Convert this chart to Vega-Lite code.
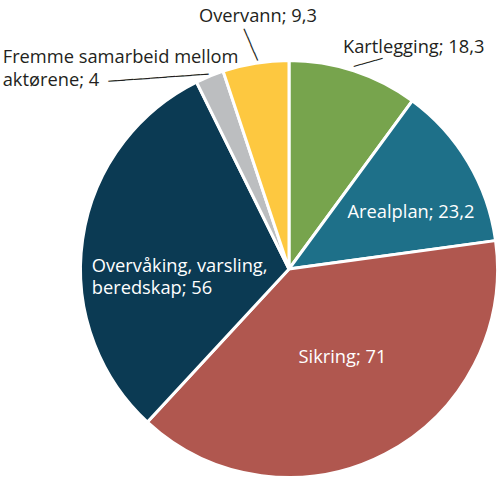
{
  "$schema": "https://vega.github.io/schema/vega-lite/v6.json",
  "description": "Kakediagram: fordeling på tiltak.",
  "autosize": {"type": "none"},
  "padding": {"left": 82, "top": 62, "right": 4, "bottom": 11},
  "width": 414,
  "height": 414,
  "data": {
    "values": [
      {"tiltak": "Kartlegging", "verdi": 18.3, "nr": 1, "etikett": "Kartlegging; 18,3"},
      {"tiltak": "Arealplan", "verdi": 23.2, "nr": 2, "etikett": "Arealplan; 23,2"},
      {"tiltak": "Sikring", "verdi": 71, "nr": 3, "etikett": "Sikring; 71"},
      {"tiltak": "Overvåking, varsling, beredskap", "verdi": 56, "nr": 4, "etikett": "Overvåking, varsling,\nberedskap; 56"},
      {"tiltak": "Fremme samarbeid mellom aktørene", "verdi": 4, "nr": 5, "etikett": "Fremme samarbeid mellom\naktørene; 4"},
      {"tiltak": "Overvann", "verdi": 9.3, "nr": 6, "etikett": "Overvann; 9,3"}
    ]
  },
  "encoding": {
    "theta": {"field": "verdi", "type": "quantitative", "stack": true},
    "order": {"field": "nr", "type": "quantitative"}
  },
  "layer": [
    {
      "mark": {"type": "arc", "outerRadius": 208.5, "stroke": "white", "strokeWidth": 3},
      "encoding": {
        "color": {
          "field": "tiltak",
          "type": "nominal",
          "legend": null,
          "scale": {
            "domain": ["Kartlegging", "Arealplan", "Sikring", "Overvåking, varsling, beredskap", "Fremme samarbeid mellom aktørene", "Overvann"],
            "range": ["#77a44d", "#1e7089", "#b0574f", "#0b3a53", "#bcbec0", "#fdc840"]
          }
        }
      }
    },
    {
      "mark": {"type": "text", "radius": 207, "dx": -10.4, "dy": -19, "align": "left", "baseline": "alphabetic", "font": "Open Sans", "fontSize": 18.3, "color": "#231f20"},
      "encoding": {"text": {"condition": {"test": "datum.nr === 1", "field": "etikett"}, "value": ""}}
    },
    {
      "mark": {"type": "text", "radius": 130, "dx": 10.3, "dy": 15.8, "align": "center", "baseline": "alphabetic", "font": "Open Sans", "fontSize": 18.3, "color": "white"},
      "encoding": {"text": {"condition": {"test": "datum.nr === 2", "field": "etikett"}, "value": ""}}
    },
    {
      "mark": {"type": "text", "radius": 100, "dx": 7.3, "dy": 5.6, "align": "center", "baseline": "alphabetic", "font": "Open Sans", "fontSize": 18.3, "color": "white"},
      "encoding": {"text": {"condition": {"test": "datum.nr === 3", "field": "etikett"}, "value": ""}}
    },
    {
      "mark": {"type": "text", "radius": 150, "dx": -48.8, "dy": 24.1, "align": "left", "baseline": "alphabetic", "lineBreak": "\n", "lineHeight": 22.5, "font": "Open Sans", "fontSize": 18.3, "color": "white"},
      "encoding": {"text": {"condition": {"test": "datum.nr === 4", "field": "etikett"}, "value": ""}}
    },
    {
      "mark": {"type": "text", "radius": 207, "dx": -207.5, "dy": -14.9, "align": "left", "baseline": "alphabetic", "lineBreak": "\n", "lineHeight": 23, "font": "Open Sans", "fontSize": 18.3, "color": "#231f20"},
      "encoding": {"text": {"condition": {"test": "datum.nr === 5", "field": "etikett"}, "value": ""}}
    },
    {
      "mark": {"type": "text", "radius": 207, "dx": 2.1, "dy": -42.2, "align": "center", "baseline": "alphabetic", "font": "Open Sans", "fontSize": 18.3, "color": "#231f20"},
      "encoding": {"text": {"condition": {"test": "datum.nr === 6", "field": "etikett"}, "value": ""}}
    },
    {
      "mark": {"type": "text", "radius": 207, "angle": -15.6, "dx": 16.9, "dy": -5.2, "align": "center", "baseline": "middle", "font": "DejaVu Sans", "fontSize": 12.4, "color": "#231f20"},
      "encoding": {"text": {"condition": {"test": "datum.nr === 1", "value": "────"}, "value": ""}}
    },
    {
      "mark": {"type": "text", "radius": 207, "angle": 67, "dx": -20.3, "dy": -2.2, "align": "center", "baseline": "middle", "font": "DejaVu Sans", "fontSize": 14.3, "color": "#231f20"},
      "encoding": {"text": {"condition": {"test": "datum.nr === 6", "value": "────"}, "value": ""}}
    },
    {
      "mark": {"type": "text", "radius": 207, "angle": -4.07, "dx": -51.7, "dy": -2.8, "align": "center", "baseline": "middle", "font": "DejaVu Sans", "fontSize": 13.9, "color": "#231f20"},
      "encoding": {"text": {"condition": {"test": "datum.nr === 5", "value": "────────────"}, "value": ""}}
    }
  ],
  "view": {"stroke": null}
}
